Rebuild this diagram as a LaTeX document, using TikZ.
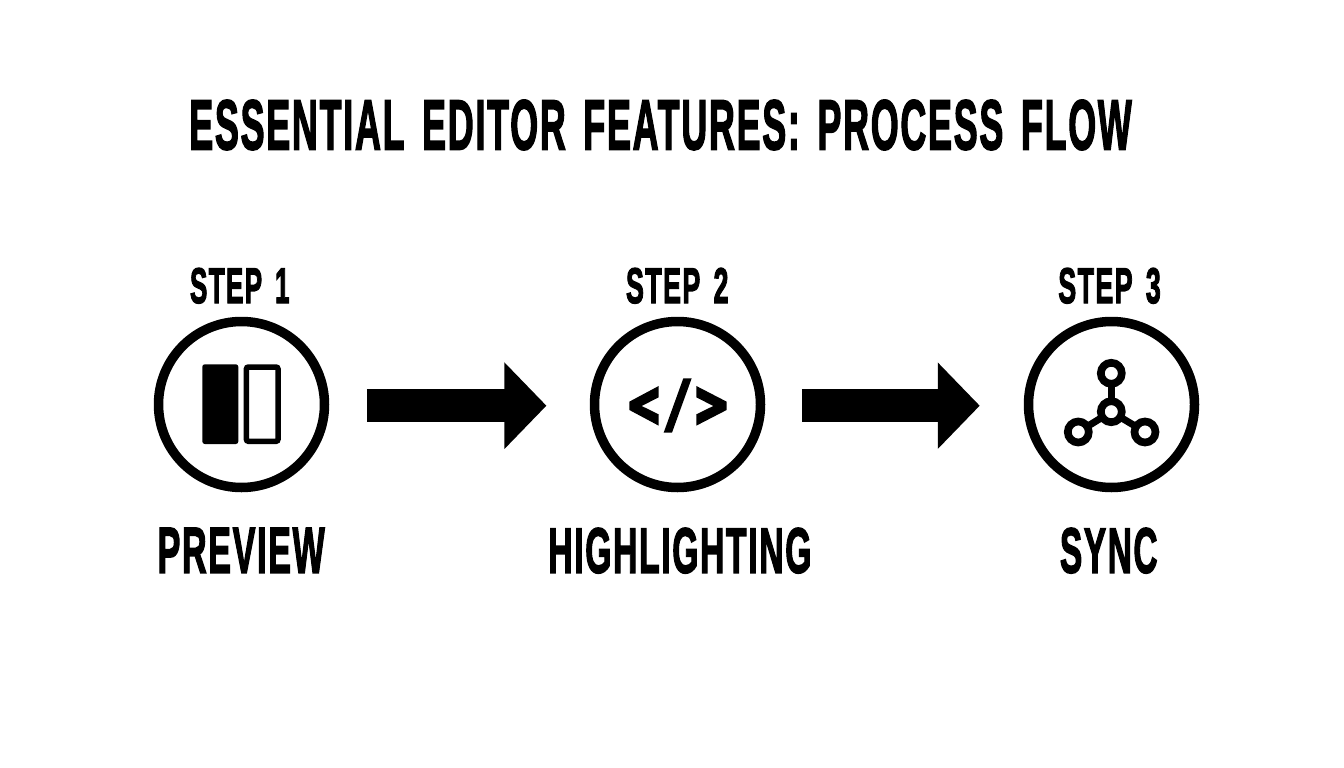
\documentclass[tikz,border=0pt]{standalone}
\usepackage{fontspec}
\usepackage{graphicx}
\usetikzlibrary{arrows.meta}
\newfontfamily\labfont{Liberation Sans}[BoldFeatures={FakeBold=2.8,LetterSpace=5,WordSpace=1.5}]
\newcommand{\fitlab}[3]{\resizebox{#1pt}{#2pt}{\labfont\bfseries #3}}
\tikzset{
  x=1pt,y=-1pt,
  lab/.style={inner sep=0pt,outer sep=0pt,anchor=north west,text=black},
  stepcircle/.style={circle,draw=black,line width=9.5pt,minimum size=166pt,inner sep=0pt},
  flowarrow/.style={draw=black,line width=32.5pt,-{Triangle[length=42pt,width=84pt]}},
  hub/.style={circle,draw=black,fill=white,line width=7.7pt,minimum size=21pt,inner sep=0pt},
  spoke/.style={draw=black,line width=7pt,shorten <=-3pt,shorten >=-3pt},
  glyph/.style={fill=black,draw=none}
}
\begin{document}
\begin{tikzpicture}
\useasboundingbox (0,0) rectangle (1344,768);
\fill[white] (0,0) rectangle (1344,768);
% title
\node[lab] (title) at (189.3,100) {\fitlab{942.4}{49.3}{ESSENTIAL EDITOR FEATURES: PROCESS FLOW}};
% step labels
\node[lab] (s1) at (190,268) {\fitlab{99.5}{35}{STEP 1}};
\node[lab] (s2) at (626,268) {\fitlab{102.5}{35}{STEP 2}};
\node[lab] (s3) at (1058.3,268) {\fitlab{102.5}{35}{STEP 3}};
% names
\node[lab] (n1) at (157.7,528) {\fitlab{167}{44.6}{PREVIEW}};
\node[lab] (n2) at (548.3,528) {\fitlab{263}{44.6}{HIGHLIGHTING}};
\node[lab] (n3) at (1060,528) {\fitlab{97.5}{44.6}{SYNC}};
% circles
\node[stepcircle] (c1) at (241.5,404.5) {};
\node[stepcircle] (c2) at (677.5,404.5) {};
\node[stepcircle] (c3) at (1111.5,404.5) {};
% arrows
\draw[flowarrow,shorten <=37.7pt,shorten >=43.3pt] ([yshift=-1.2pt]c1.east) -- ([yshift=-1.2pt]c2.west);
\draw[flowarrow,shorten <=36.7pt,shorten >=44pt] ([yshift=-1.2pt]c2.east) -- ([yshift=-1.2pt]c3.west);
% preview icon
\fill[black,rounded corners=2.5pt] (202.3,364.3) rectangle (238.3,444);
\draw[black,line width=5.5pt,rounded corners=2pt,fill=white] (246.4,367) rectangle (278,441.3);
% code icon
\begin{scope}[shift={(580,310)},x=0.3333pt,y=-0.3333pt]
\fill[glyph] (236,228) -- (148,275) -- (148,300) -- (236,347) -- (236,313) -- (185,288) -- (236,262) -- cycle;
\fill[glyph] (349,228) -- (440,275) -- (440,300) -- (349,347) -- (349,313) -- (400,288) -- (349,262) -- cycle;
\fill[glyph] (310,205) -- (335,205) -- (276,368) -- (251,368) -- cycle;
\end{scope}
% sync icon
\node[hub] (hc) at (1111.3,411.7) {};
\node[hub] (ht) at (1111.3,373.3) {};
\node[hub] (hl) at (1078.3,432) {};
\node[hub] (hr) at (1145,432) {};
\draw[spoke] (hc) -- (ht);
\draw[spoke] (hc) -- (hl);
\draw[spoke] (hc) -- (hr);
\end{tikzpicture}
\end{document}
